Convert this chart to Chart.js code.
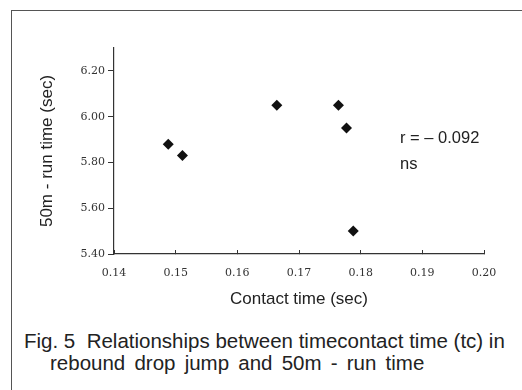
<!DOCTYPE html>
<html>
<head>
<meta charset="utf-8">
<script src="https://cdn.jsdelivr.net/npm/chart.js@4"></script>
<style>
  html, body { margin: 0; padding: 0; background: #fff; }
  body { width: 522px; height: 390px; position: relative; overflow: hidden; font-family: "Liberation Sans", Arial, sans-serif; color: #222; }
  .frame { position: absolute; left: 11px; top: 10px; width: 600px; height: 500px; border-left: 1.5px solid #555; border-top: 1.5px solid #555; }
  #wrap { position: absolute; left: 0; top: 0; width: 522px; height: 320px; }
  .note { position: absolute; left: 400px; font-size: 16.5px; line-height: 1; }
  .caption { position: absolute; left: 24px; top: 330px; font-size: 20.5px; line-height: 22px; white-space: nowrap; }
  .caption .l2 { padding-left: 26px; word-spacing: 3.5px; }
</style>
</head>
<body>
<div class="frame"></div>
<div id="wrap"><canvas id="chart" width="522" height="320"></canvas></div>
<div class="note" style="top:129px">r = &ndash; 0.092</div>
<div class="note" style="top:155px">ns</div>
<div class="caption">Fig. 5&nbsp; Relationships between timecontact time (tc) in<br><span class="l2">rebound drop jump and 50m - run time</span></div>
<script>
// contact time (sec) vs 50m run time (sec)
const contactTime = [0.1488, 0.1511, 0.1664, 0.1764, 0.1777, 0.1788];
const runTime = [5.88, 5.83, 6.05, 6.05, 5.95, 5.50];
const xTicks = [0.14, 0.15, 0.16, 0.17, 0.18, 0.19, 0.20];
const yTicks = [5.40, 5.60, 5.80, 6.00, 6.20];

const points = contactTime.map((x, i) => ({ x: x, y: runTime[i] }));

new Chart(document.getElementById('chart'), {
  type: 'scatter',
  data: {
    datasets: [{
      data: points,
      pointStyle: 'rectRot',
      pointRadius: 5.5,
      backgroundColor: '#111',
      borderColor: '#111',
      borderWidth: 0
    }]
  },
  options: {
    responsive: false,
    animation: false,
    events: [],
    layout: { padding: { left: 0, top: 48, right: 38, bottom: 0 } },
    plugins: { legend: { display: false }, tooltip: { enabled: false } },
    scales: {
      x: {
        type: 'linear',
        min: 0.14,
        max: 0.20,
        afterBuildTicks: (s) => { s.ticks = xTicks.map(v => ({ value: v })); },
        afterFit: (s) => { s.height = 66; },
        grid: { drawOnChartArea: false, tickLength: -4, tickColor: '#333', tickWidth: 1 },
        border: { display: true, color: '#333', width: 1.2 },
        ticks: {
          padding: 17,
          color: '#333',
          font: { family: 'DejaVu Serif', size: 11 },
          callback: (v) => Number(v).toFixed(2)
        },
        title: {
          display: true,
          text: 'Contact time (sec)',
          color: '#222',
          font: { family: 'Liberation Sans', size: 17 },
          padding: { top: 0, bottom: 10 }
        }
      },
      y: {
        type: 'linear',
        min: 5.4,
        max: 6.3,
        afterBuildTicks: (s) => { s.ticks = yTicks.map(v => ({ value: v })); },
        afterFit: (s) => { s.width = 114; },
        grid: { drawOnChartArea: false, tickLength: 6, tickColor: '#333', tickWidth: 1 },
        border: { display: true, color: '#333', width: 1.2 },
        ticks: {
          padding: 3,
          color: '#333',
          font: { family: 'DejaVu Serif', size: 11 },
          callback: (v) => Number(v).toFixed(2)
        },
        title: {
          display: true,
          text: '50m - run time (sec)',
          color: '#222',
          font: { family: 'Liberation Sans', size: 17 },
          padding: { top: 37, bottom: 0 }
        }
      }
    }
  }
});
</script>
</body>
</html>
